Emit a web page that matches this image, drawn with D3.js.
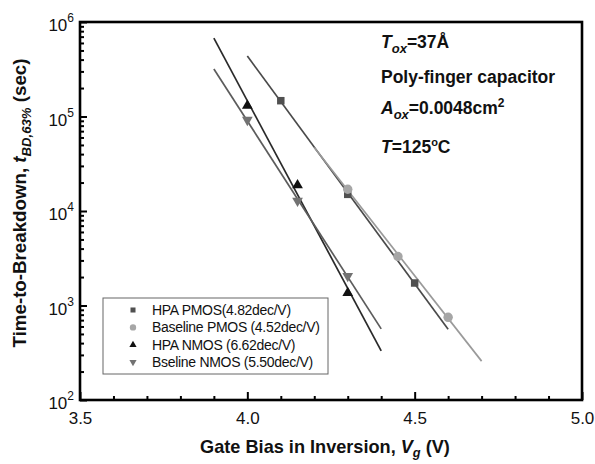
<!DOCTYPE html>
<html>
<head>
<meta charset="utf-8">
<script src="https://cdn.jsdelivr.net/npm/d3@7"></script>
<style>
  body { margin: 0; background: #fff; }
  svg { font-family: "Liberation Sans", Arial, sans-serif; }
</style>
</head>
<body>
<svg id="chart" width="595" height="464"></svg>
<script>
// Breakdown time vs gate bias (log scale), with fitted lines per device type
const seriesNames = ["HPA PMOS(4.82dec/V)", "Baseline PMOS (4.52dec/V)", "HPA NMOS (6.62dec/V)", "Bseline NMOS (5.50dec/V)"];
const slopes = [4.82, 4.52, 6.62, 5.50];           // decades per volt, as labelled
const hpaPmosV = [4.1, 4.3, 4.5];
const hpaPmosT = [1.47e5, 1.5e4, 1.73e3];
const basePmosV = [4.3, 4.45, 4.6];
const basePmosT = [1.7e4, 3.3e3, 7.5e2];
const hpaNmosV = [4.0, 4.15, 4.3];
const hpaNmosT = [1.3e5, 1.88e4, 1.36e3];
const baseNmosV = [4.0, 4.15, 4.3];
const baseNmosT = [9.2e4, 1.28e4, 2.05e3];
const fitRanges = [[4.0, 4.6], [4.2, 4.7], [3.9, 4.4], [3.9, 4.4]];
const xTickValues = [3.5, 4.0, 4.5, 5.0];
const yTickExponents = [2, 3, 4, 5, 6];

const seriesV = [hpaPmosV, basePmosV, hpaNmosV, baseNmosV];
const seriesT = [hpaPmosT, basePmosT, hpaNmosT, baseNmosT];
const markerColors = ["#505050", "#a6a6a6", "#111111", "#727272"];
const lineColors = ["#4a4a4a", "#9a9a9a", "#2a2a2a", "#5c5c5c"];
const symbolTypes = [d3.symbolSquare, d3.symbolCircle, d3.symbolTriangle, d3.symbolTriangle];
const symbolSizes = [56, 70, 50, 50];
const symbolRotate = [0, 0, 0, 180];

const plot = { left: 80, right: 582, top: 22, bottom: 400 };
const svg = d3.select("#chart");

const x = d3.scaleLinear().domain([3.5, 5.0]).range([plot.left, plot.right]);
const y = d3.scaleLog().domain([1e2, 1e6]).range([plot.bottom, plot.top]);

// stretch a text element along its run so it covers a given length
function fitLength(textSel, cx, cy, rotate, length) {
  textSel.attr("text-anchor", "middle").attr("x", 0).attr("y", 0);
  const w = textSel.node().getBBox().width;
  textSel.attr("transform", `translate(${cx},${cy}) rotate(${rotate}) scale(${length / w},1)`);
}

// minor ticks (inward)
const xMinor = d3.range(36, 50).map(d => d / 10).filter(v => !xTickValues.some(t => Math.abs(t - v) < 1e-9));
svg.append("g").attr("transform", `translate(0,${plot.bottom})`)
  .call(d3.axisBottom(x).tickValues(xMinor).tickSize(-4).tickFormat(""))
  .call(g => g.select(".domain").remove())
  .call(g => g.selectAll("line").attr("stroke", "#000").attr("stroke-width", 2));
svg.append("g").attr("transform", `translate(0,${plot.bottom})`)
  .call(d3.axisBottom(x).tickValues(xTickValues).tickSize(-8).tickPadding(15).tickFormat(d3.format(".1f")))
  .call(g => g.select(".domain").remove())
  .call(g => g.selectAll("line").attr("stroke", "#000").attr("stroke-width", 2))
  .call(g => g.selectAll("text").attr("font-size", 17).attr("fill", "#111")
    .attr("font-family", "'Liberation Sans', Arial, sans-serif").attr("dy", "0.55em"));

const yMinor = [];
for (let e = 2; e < 6; e++) for (let m = 2; m <= 9; m++) yMinor.push(m * Math.pow(10, e));
svg.append("g").attr("transform", `translate(${plot.left},0)`)
  .call(d3.axisLeft(y).tickValues(yMinor).tickSize(-4).tickFormat(""))
  .call(g => g.select(".domain").remove())
  .call(g => g.selectAll("line").attr("stroke", "#000").attr("stroke-width", 2));
const yMajor = svg.append("g").attr("transform", `translate(${plot.left},0)`)
  .call(d3.axisLeft(y).tickValues(yTickExponents.map(e => Math.pow(10, e))).tickSize(-7).tickPadding(6).tickFormat(""))
  .call(g => g.select(".domain").remove())
  .call(g => g.selectAll("line").attr("stroke", "#000").attr("stroke-width", 2));
yMajor.selectAll(".tick text").each(function (d) {
  const t = d3.select(this).attr("font-size", 17).attr("fill", "#111")
    .attr("font-family", "'Liberation Sans', Arial, sans-serif").attr("dy", "0.5em").attr("x", -6);
  t.append("tspan").text("10");
  t.append("tspan").attr("font-size", 12).attr("dy", "-0.75em").text(Math.round(Math.log10(d)));
});

// frame
svg.append("rect")
  .attr("x", plot.left).attr("y", plot.top)
  .attr("width", plot.right - plot.left).attr("height", plot.bottom - plot.top)
  .attr("fill", "none").attr("stroke", "#000").attr("stroke-width", 2.6);

// fitted lines: labelled slope through the mean of each series (log space)
const line = d3.line().x(d => x(d[0])).y(d => y(d[1]));
seriesV.forEach((vs, i) => {
  const mv = d3.mean(vs);
  const ml = d3.mean(seriesT[i], t => Math.log10(t));
  const pts = fitRanges[i].map(v => [v, Math.pow(10, ml - slopes[i] * (v - mv))]);
  svg.append("path").attr("d", line(pts))
    .attr("fill", "none").attr("stroke", lineColors[i]).attr("stroke-width", 1.7);
});

// markers
seriesV.forEach((vs, i) => {
  const sym = d3.symbol().type(symbolTypes[i]).size(symbolSizes[i]);
  svg.append("g").selectAll("path").data(vs.map((v, k) => [v, seriesT[i][k]])).join("path")
    .attr("d", sym)
    .attr("transform", d => `translate(${x(d[0])},${y(d[1])}) rotate(${symbolRotate[i]})`)
    .attr("fill", markerColors[i]);
});

// legend
const lg = svg.append("g");
lg.append("rect").attr("x", 103).attr("y", 298).attr("width", 225).attr("height", 76)
  .attr("fill", "#fff").attr("stroke", "#666").attr("stroke-width", 1);
seriesNames.forEach((name, i) => {
  const cy = 310 + i * 17.4;
  const sym = d3.symbol().type(symbolTypes[i]).size(symbolSizes[i] * 0.45);
  lg.append("path").attr("d", sym)
    .attr("transform", `translate(133,${cy}) rotate(${symbolRotate[i]})`)
    .attr("fill", markerColors[i]);
  lg.append("text").attr("x", 152).attr("y", cy).attr("dy", "0.36em")
    .attr("font-size", 14).attr("fill", "#111").attr("letter-spacing", -0.3).text(name);
});

// annotations
const ann = svg.append("g").attr("font-weight", "bold").attr("font-size", 17.5).attr("fill", "#111");
const a1 = ann.append("text").attr("x", 381).attr("y", 48);
a1.append("tspan").attr("font-style", "italic").text("T");
a1.append("tspan").attr("font-style", "italic").attr("font-size", 13).attr("dy", 5).text("ox");
a1.append("tspan").attr("dy", -5).text("=37Å");
ann.append("text").attr("x", 381).attr("y", 83).text("Poly-finger capacitor");
const a3 = ann.append("text").attr("x", 381).attr("y", 114);
a3.append("tspan").attr("font-style", "italic").text("A");
a3.append("tspan").attr("font-style", "italic").attr("font-size", 13).attr("dy", 5).text("ox");
a3.append("tspan").attr("dy", -5).text("=0.0048cm");
a3.append("tspan").attr("font-size", 12).attr("dy", -7).text("2");
const a4 = ann.append("text").attr("x", 381).attr("y", 153);
a4.append("tspan").attr("font-style", "italic").text("T");
a4.append("tspan").text("=125");
a4.append("tspan").attr("font-size", 11).attr("dy", -7).text("o");
a4.append("tspan").attr("dy", 7).text("C");

// axis titles
const xt = svg.append("text").attr("font-weight", "bold").attr("font-size", 18.5).attr("fill", "#111");
xt.append("tspan").text("Gate Bias in Inversion, ");
xt.append("tspan").attr("font-style", "italic").text("V");
xt.append("tspan").attr("font-style", "italic").attr("font-size", 13).attr("dy", 4).text("g");
xt.append("tspan").attr("dy", -4).text(" (V)");
fitLength(xt, 325, 453, 0, 250);

const yt = svg.append("text").attr("font-weight", "bold").attr("font-size", 18.5).attr("fill", "#111");
yt.append("tspan").text("Time-to-Breakdown, ");
yt.append("tspan").attr("font-style", "italic").text("t");
yt.append("tspan").attr("font-style", "italic").attr("font-size", 13).attr("dy", 5).text("BD,63%");
yt.append("tspan").attr("dy", -5).text(" (sec)");
fitLength(yt, 26, 203, -90, 289);
</script>
</body>
</html>
